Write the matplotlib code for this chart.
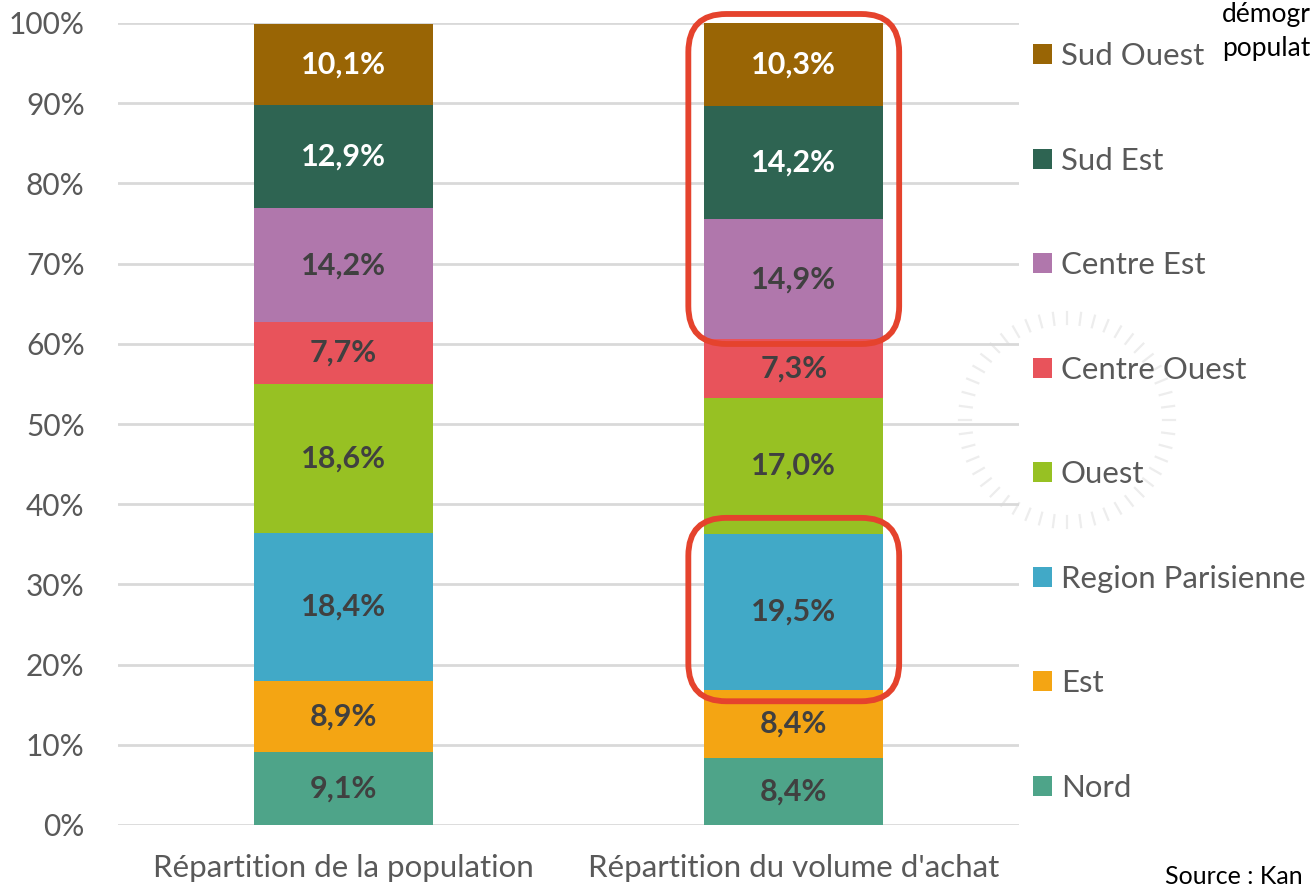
import matplotlib
matplotlib.use("Agg")
import matplotlib.pyplot as plt
from matplotlib.patches import FancyBboxPatch, Patch
from matplotlib.lines import Line2D
import numpy as np

plt.rcParams['font.family'] = ['Lato', 'DejaVu Sans']

categories = ["Répartition de la population", "Répartition du volume d'achat"]
regions = ["Nord", "Est", "Region Parisienne", "Ouest", "Centre Ouest",
           "Centre Est", "Sud Est", "Sud Ouest"]
population = [9.1, 8.9, 18.4, 18.6, 7.7, 14.2, 12.9, 10.1]
volume_achat = [8.4, 8.4, 19.5, 17.0, 7.3, 14.9, 14.2, 10.3]
colors = ["#4EA489", "#F4A513", "#41A9C7", "#97C123", "#E8535B",
          "#B077AC", "#2E6452", "#996505"]
label_colors = ["#404040"] * 6 + ["white", "white"]
yticks = [0, 10, 20, 30, 40, 50, 60, 70, 80, 90, 100]

W, H = 1310, 886
fig = plt.figure(figsize=(W / 100, H / 100), dpi=100)

# faint decorative watermark (dashed ring) behind the chart
bg = fig.add_axes([0, 0, 1, 1], zorder=-5)
bg.set_xlim(0, W)
bg.set_ylim(H, 0)
bg.axis('off')
for a in np.linspace(0, 2 * np.pi, 48, endpoint=False):
    r0, r1 = 96, 108
    cx, cy = 1067, 420
    bg.add_line(Line2D([cx + r0 * np.cos(a), cx + r1 * np.cos(a)],
                       [cy + r0 * np.sin(a), cy + r1 * np.sin(a)],
                       color='#EDEDED', linewidth=1.6))

ax = fig.add_axes([118 / W, (H - 825) / H, (1019 - 118) / W, (825 - 23) / H])
ax.patch.set_alpha(0)

data = np.array([population, volume_achat])  # shape (2, 8)
x = np.arange(len(categories))
bw = 0.397
bottoms = np.zeros(len(categories))
for i, reg in enumerate(regions):
    vals = data[:, i]
    ax.bar(x, vals, bw, bottom=bottoms, color=colors[i], label=reg, zorder=3)
    for xi, v, b in zip(x, vals, bottoms):
        ax.text(xi, b + v / 2, f"{v:.1f}%".replace('.', ','), ha='center', va='center',
                fontsize=22, fontweight='bold', color=label_colors[i], zorder=4)
    bottoms += vals

ax.set_xlim(-0.5, 1.5)
ax.set_ylim(0, 100)
ax.set_yticks(yticks)
ax.set_yticklabels([f"{t}%" for t in yticks])
ax.set_xticks(x)
ax.set_xticklabels(categories)
ax.tick_params(axis='both', length=0, labelcolor='#595959')
ax.tick_params(axis='y', labelsize=21.5, pad=24)
ax.tick_params(axis='x', labelsize=22.5, pad=21)
ax.grid(axis='y', color='#D9D9D9', linewidth=2, zorder=0)
for s in ax.spines.values():
    s.set_visible(False)

# Legend (reversed order)
handles = [Patch(facecolor=c, edgecolor='none') for c in colors][::-1]
leg = ax.legend(handles, regions[::-1], loc='upper left',
                frameon=False, fontsize=22.4, labelcolor='#595959',
                handlelength=0.62, handleheight=0.62, handletextpad=0.28,
                labelspacing=2.46, borderaxespad=0.0, borderpad=0.0)
leg.set_bbox_to_anchor((1033 / W, (H - 42) / H), transform=fig.transFigure)

# Highlight boxes (computed from the data in display pixels)
fig.canvas.draw()
def highlight(xi, y0, y1, padx=16, pad_top=10, pad_bot=6):
    (xa, ya) = ax.transData.transform((xi - bw / 2, y0))
    (xb, yb) = ax.transData.transform((xi + bw / 2, y1))
    box = FancyBboxPatch((xa - padx, ya - pad_bot), (xb - xa) + 2 * padx,
                         (yb - ya) + pad_top + pad_bot,
                         boxstyle="round,pad=0,rounding_size=38",
                         transform=None, fill=False, edgecolor='#E5432D',
                         linewidth=4.2, zorder=10, clip_on=False)
    fig.add_artist(box)

cum = np.cumsum(volume_achat)
highlight(1, cum[4], cum[7], pad_top=9, pad_bot=5)
highlight(1, cum[1], cum[2], pad_top=16, pad_bot=11)

fig.text(1222 / W, 1 - 22 / H, "démogr", fontsize=19, color='black', va='baseline')
fig.text(1222 / W, 1 - 56 / H, "populat", fontsize=19, color='black', va='baseline')
fig.text(1165 / W, 1 - 884 / H, "Source : Kan", fontsize=18, color='black', va='baseline')

fig.savefig("out.png", dpi=100)
